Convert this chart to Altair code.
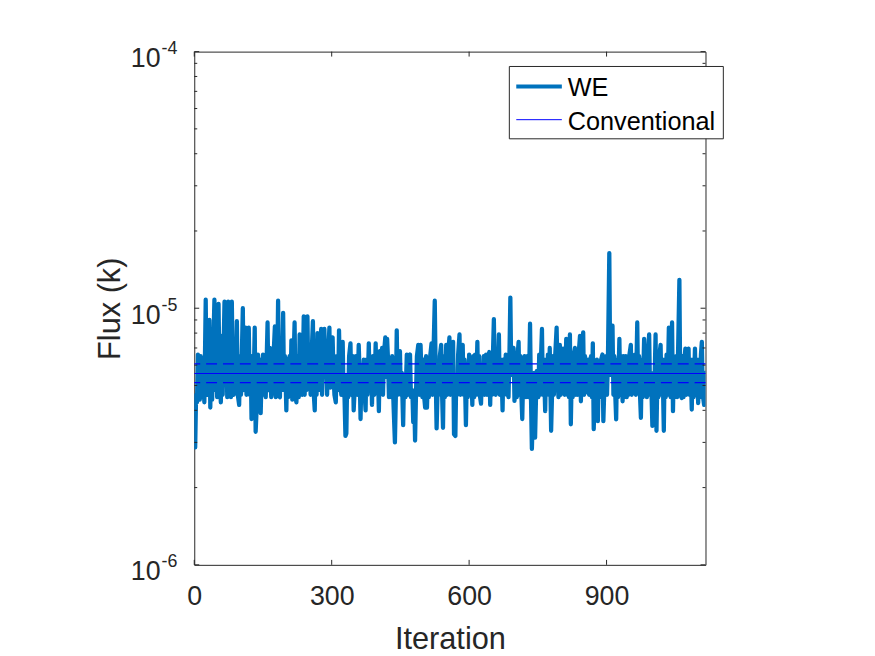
import altair as alt
import pandas as pd

FONT = "Liberation Sans, Arial, Helvetica, sans-serif"
TXT = "#262626"

# ---- WE flux series (values in units of 1e-6) ----
iterations = [
    0, 2, 4, 6, 8, 10, 12, 14, 16, 19, 22, 25, 27, 29, 31, 33, 35, 37, 39, 41, 44, 46, 48, 50, 53, 55, 58, 60, 62, 66,
    68, 70, 72, 74, 76, 78, 80, 82, 84, 86, 88, 90, 93, 95, 98, 100, 102, 106, 108, 110, 112, 114, 116, 119, 121, 123,
    125, 127, 129, 132, 134, 136, 139, 141, 143, 145, 147, 150, 152, 154, 156, 160, 162, 165, 168, 170, 173, 176, 178,
    181, 183, 185, 187, 189, 191, 194, 196, 198, 201, 203, 205, 208, 210, 212, 214, 217, 219, 221, 223, 225, 228, 230,
    232, 234, 236, 239, 241, 243, 245, 247, 249, 252, 254, 256, 259, 261, 263, 265, 267, 269, 271, 273, 275, 277, 279,
    281, 284, 286, 288, 290, 292, 295, 297, 299, 302, 304, 306, 309, 311, 314, 316, 318, 321, 324, 326, 328, 330, 332,
    334, 336, 338, 341, 343, 346, 348, 350, 353, 356, 359, 361, 363, 365, 367, 370, 372, 374, 376, 378, 381, 383, 386,
    388, 390, 393, 396, 398, 400, 403, 405, 407, 410, 412, 414, 417, 419, 421, 423, 425, 428, 430, 432, 435, 438, 440,
    442, 444, 447, 449, 451, 453, 456, 458, 461, 464, 466, 468, 471, 473, 476, 478, 480, 482, 484, 486, 489, 491, 494,
    496, 498, 500, 502, 504, 506, 508, 510, 512, 515, 518, 520, 522, 525, 527,
    529, 532, 534, 536, 539, 541, 543, 545, 547, 550, 552, 554, 557, 559, 562, 565, 567, 570, 572, 574, 576, 579, 581,
    583, 586, 588, 590, 593, 595, 597, 600, 602, 604, 607, 609, 611, 613, 615, 618, 620, 622, 624, 626, 628, 630, 632,
    634, 637, 639, 641, 644, 646, 648, 650, 652, 654, 656, 658, 660, 662, 665, 667, 670, 673, 675, 677, 680, 682, 684,
    686, 688, 690, 692, 694, 697, 699, 702, 704, 706, 708, 710, 712, 714, 716, 718, 721, 724, 727, 730, 733, 735, 737,
    740, 742, 744, 746, 748, 751, 753, 755, 757, 759, 761, 763, 766, 768, 770, 772, 774, 776, 779, 781, 783, 785, 788,
    791, 793, 795, 798, 800, 802, 805, 807, 809, 812, 814, 816, 818, 820, 822, 824, 826, 828, 831, 833, 835, 837, 839,
    842, 844, 846, 849, 851, 853, 855, 857, 860, 862, 864, 866, 868, 870, 872, 875, 877, 879, 881, 883, 885, 888, 891,
    893, 896, 899, 901, 903, 906, 908, 910, 913, 915, 917, 919, 921, 923, 925, 928, 930, 932, 935, 937, 939, 942, 944,
    946, 948, 950, 953, 955, 957, 960, 962, 964, 967, 969, 971, 973, 975, 977, 979, 982, 984, 986, 988, 990, 993, 995,
    997, 1000, 1002, 1004, 1007, 1009, 1011, 1013, 1015, 1018, 1020, 1022, 1025, 1027, 1029, 1031, 1033, 1036, 1038,
    1040, 1043, 1045, 1047, 1049, 1052, 1054, 1056, 1059, 1061, 1064, 1066, 1068, 1070, 1072, 1074, 1076, 1079, 1081,
    1083, 1086, 1088, 1090, 1093, 1095, 1097, 1100, 1102, 1104, 1106, 1108, 1110, 1113, 1115,
]

we_flux_e6 = [
    4.2, 2.87, 4.6, 4.3, 6.6, 4.8, 4.4, 6.5, 4.5, 6.3, 4.3, 10.8, 4.6, 8.5, 4.6, 9.0, 4.1, 7.0, 4.4, 6.5, 10.8, 4.8, 7.5,
    4.5, 10.4, 5.5, 4.3, 7.8, 4.6, 10.6, 5.3, 8.0, 4.5, 10.6, 5.6, 7.2, 4.5, 10.6, 5.6, 4.6, 7.0, 4.8, 8.9, 4.6, 4.2,
    6.5, 4.6, 10.0, 4.8, 6.5, 8.4, 4.6, 6.5, 8.4, 4.6, 6.5, 3.7, 6.5, 4.5, 8.4, 3.3, 4.0, 6.6, 4.2, 6.3, 3.9, 5.5, 6.6,
    4.6, 6.5, 4.5, 8.8, 4.8, 7.0, 4.5, 4.8, 6.5, 8.5, 4.5, 5.5, 10.7, 4.6, 4.5, 7.0, 4.8, 9.6, 4.8, 6.5, 4.0, 6.3, 4.5,
    6.5, 4.6, 7.5, 4.4, 6.5, 8.8, 4.5, 4.3, 6.5, 4.5, 7.9, 4.6, 5.5, 4.6, 9.3, 4.6, 7.0, 4.8, 9.3, 5.3, 7.0, 4.6, 6.5,
    8.9, 4.6, 4.0, 6.5, 4.6, 8.0, 4.8, 7.0, 5.5, 8.3, 4.6, 6.6, 8.3, 5.5, 6.5, 4.6, 6.5, 8.4, 4.9, 7.0, 7.7, 5.5, 4.6,
    4.3, 6.5, 4.8, 8.2, 5.5, 4.6, 7.4, 4.6, 4.5, 3.18, 3.25, 5.5, 4.5, 6.5, 7.3, 4.6, 6.5, 4.0, 4.8, 6.5, 4.6, 7.2, 5.5,
    3.7, 5.5, 4.5, 6.3, 4.6, 4.0, 6.3, 4.6, 7.3, 4.8, 6.3, 4.2, 6.5, 4.6, 7.3, 4.8, 6.5, 3.97, 6.8, 4.8, 7.0, 4.6, 6.6,
    7.7, 5.4, 7.6, 6.3, 4.5, 5.5, 4.5, 6.5, 4.2, 3.0, 4.5, 8.2, 4.6, 6.5, 6.8, 4.6, 5.6, 3.5, 5.5, 4.5, 6.6, 4.6, 6.3,
    6.6, 4.5, 4.8, 3.6, 4.6, 3.05, 4.6, 6.5, 7.2, 4.6, 7.2, 5.5, 4.5, 6.3, 4.5, 4.1, 6.5, 4.1, 5.5, 4.5, 6.5, 7.3, 4.6,
    6.5, 10.7, 5.5,
    3.4, 5.5, 4.6, 6.5, 7.2, 4.6, 3.42, 6.5, 4.5, 7.2, 4.6, 6.5, 7.7, 4.6, 6.5, 7.4, 3.23, 3.18, 5.5, 4.6, 6.6, 7.9,
    4.6, 6.5, 7.2, 4.6, 6.3, 3.5, 5.5, 4.5, 6.6, 4.6, 6.3, 4.2, 6.5, 4.5, 6.6, 4.6, 7.4, 4.6, 6.5, 4.5, 4.25, 5.5, 4.6,
    6.5, 4.6, 6.6, 4.6, 6.3, 6.75, 4.2, 6.5, 4.6, 6.6, 9.07, 5.5, 4.6, 6.5, 4.8, 7.9, 4.6, 6.3, 4.0, 6.3, 4.7, 6.6, 4.6,
    6.5, 4.5, 6.6, 11.0, 5.5, 6.5, 7.0, 4.35, 6.3, 4.5, 6.6, 7.4, 4.6, 6.5, 4.6, 3.7, 5.5, 6.5, 4.5, 6.5, 4.5, 8.7, 4.5,
    2.83, 4.5, 5.6, 3.13, 4.5, 5.7, 4.5, 6.6, 4.6, 6.5, 8.3, 4.6, 6.3, 3.97, 6.3, 4.6, 6.6, 4.6, 7.0, 3.33, 4.6, 6.5,
    4.6, 6.6, 8.4, 5.5, 4.5, 7.2, 4.6, 6.5, 6.96, 4.8, 4.6, 7.6, 4.6, 6.3, 4.5, 7.9, 3.53, 5.5, 4.5, 6.5, 7.0, 4.6, 6.3,
    4.6, 6.6, 7.8, 4.34, 6.3, 8.06, 4.6, 6.5, 4.7, 5.6, 6.3, 4.6, 5.5, 6.5, 4.5, 7.3, 3.38, 5.5, 4.6, 6.3, 3.63, 5.5,
    4.5, 6.3, 6.6, 3.63, 5.5, 6.5, 4.6, 6.3, 16.4, 5.5, 6.5, 8.55, 4.6, 6.5, 4.6, 3.69, 6.3, 4.5, 7.6, 4.6, 6.5, 4.34,
    6.5, 4.5, 6.5, 4.5, 6.3, 4.6, 6.6, 7.2, 4.6, 6.3, 4.74, 6.6, 4.6, 8.8, 4.8, 6.5, 4.6, 3.74, 6.3, 4.5, 7.6, 4.6, 6.5,
    4.5, 6.6, 7.9, 4.6, 5.6, 3.48, 5.5, 4.5, 7.9, 3.33, 5.5, 4.5, 6.5, 7.2, 4.6, 6.3, 3.33, 6.3, 4.5, 6.6, 4.6, 8.4,
    5.5, 4.5, 8.8, 3.97, 6.3, 4.5, 6.5, 4.5, 6.6, 12.9, 4.6, 4.47, 6.5, 4.5, 6.3, 6.96, 4.6, 6.5, 6.96, 4.6, 6.3, 4.03,
    6.3, 4.5, 6.96, 4.6, 6.3, 4.27, 6.3, 4.5, 6.6, 7.4, 4.6, 4.2, 5.6,
]
assert len(iterations) == len(we_flux_e6), (len(iterations), len(we_flux_e6))

# ---- Conventional estimate and its bounds ----
conv_mean = [5.57e-6]
conv_bounds = [6.07e-6, 5.13e-6]

# ---- axis ticks / labels ----
x_ticks = [0, 300, 600, 900]
y_major = [1e-6, 1e-5, 1e-4]
y_exponent = ["-6", "-5", "-4"]
y_minor = [2e-6, 3e-6, 4e-6, 5e-6, 6e-6, 7e-6, 8e-6, 9e-6,
           2e-5, 3e-5, 4e-5, 5e-5, 6e-5, 7e-5, 8e-5, 9e-5]

W, H = 516, 518
XMAX = 1116

df = pd.DataFrame({"Iteration": iterations, "Flux": [v * 1e-6 for v in we_flux_e6]})

xs = alt.Scale(domain=[0, XMAX], nice=False, zero=False)
ys = alt.Scale(type="log", domain=[1e-6, 1e-4], nice=False)

X_AXIS = alt.Axis(
    values=x_ticks, ticks=False, domain=False, grid=False, labelFlush=False,
    labelFontSize=27, labelPadding=19, labelColor=TXT, labelFont=FONT,
    title="Iteration", titleFontSize=31, titleFontWeight="normal", titleColor=TXT,
    titleFont=FONT, titleY=84, titleBaseline="alphabetic")
Y_AXIS = alt.Axis(
    labels=False, ticks=False, domain=False, grid=False,
    title="Flux (k)", titleFontSize=31, titleFontWeight="normal", titleColor=TXT,
    titleFont=FONT, titleX=-75, titleY=H / 2, titleBaseline="alphabetic")

X_ENC = alt.X("Iteration:Q", scale=xs, axis=X_AXIS)
Y_ENC = alt.Y("Flux:Q", scale=ys, axis=Y_AXIS)

we_line = alt.Chart(df).mark_line(
    color="#0072BD", strokeWidth=4.3, strokeJoin="round", strokeCap="round", clip=True
).encode(x=X_ENC, y=Y_ENC)

conv_solid = alt.Chart(pd.DataFrame({"Flux": conv_mean})).mark_rule(
    color="#0000FF", strokeWidth=1.1
).encode(y=Y_ENC)

conv_dash = alt.Chart(pd.DataFrame({"Flux": conv_bounds})).mark_rule(
    color="#0000FF", strokeWidth=1.1, strokeDash=[11, 6]
).encode(y=Y_ENC)

xt = pd.DataFrame({"Iteration": x_ticks})
xtick_bot = alt.Chart(xt).mark_rule(color=TXT, strokeWidth=1).encode(
    x=X_ENC, y=alt.value(H), y2=alt.value(H - 5))
xtick_top = alt.Chart(xt).mark_rule(color=TXT, strokeWidth=1).encode(
    x=X_ENC, y=alt.value(0), y2=alt.value(5))

ym = pd.DataFrame({"Flux": y_major, "exp": y_exponent})
yn = pd.DataFrame({"Flux": y_minor})
ytick_l = alt.Chart(ym).mark_rule(color=TXT, strokeWidth=1).encode(
    y=Y_ENC, x=alt.value(0), x2=alt.value(5))
ytick_r = alt.Chart(ym).mark_rule(color=TXT, strokeWidth=1).encode(
    y=Y_ENC, x=alt.value(W - 5), x2=alt.value(W))
yminor_l = alt.Chart(yn).mark_rule(color=TXT, strokeWidth=1).encode(
    y=Y_ENC, x=alt.value(0), x2=alt.value(3))
yminor_r = alt.Chart(yn).mark_rule(color=TXT, strokeWidth=1).encode(
    y=Y_ENC, x=alt.value(W - 3), x2=alt.value(W))

ylab_base = alt.Chart(ym).mark_text(
    align="right", baseline="alphabetic", dy=15.7, fontSize=27, font=FONT, color=TXT
).encode(y=Y_ENC, x=alt.value(-34), text=alt.value("10"))
ylab_exp = alt.Chart(ym).mark_text(
    align="left", baseline="alphabetic", dy=2.4, fontSize=18, font=FONT, color=TXT
).encode(y=Y_ENC, x=alt.value(-33), text="exp:N")

one = pd.DataFrame({"k": [0]})
leg_box = alt.Chart(one).mark_rect(fill="white", stroke=TXT, strokeWidth=1).encode(
    x=alt.value(318), x2=alt.value(534), y=alt.value(15), y2=alt.value(88))
leg_we = alt.Chart(one).mark_rule(color="#0072BD", strokeWidth=4).encode(
    x=alt.value(325), x2=alt.value(371), y=alt.value(35.3))
leg_conv = alt.Chart(one).mark_rule(color="#0000FF", strokeWidth=1).encode(
    x=alt.value(325), x2=alt.value(371), y=alt.value(68.7))
leg_t1 = alt.Chart(one).mark_text(
    align="left", baseline="alphabetic", fontSize=25.5, font=FONT, color="black", text="WE"
).encode(x=alt.value(377), y=alt.value(45.3))
leg_t2 = alt.Chart(one).mark_text(
    align="left", baseline="alphabetic", fontSize=25.5, font=FONT, color="black", text="Conventional"
).encode(x=alt.value(377), y=alt.value(79))

chart = alt.layer(
    we_line, conv_solid, conv_dash,
    xtick_bot, xtick_top, ytick_l, ytick_r, yminor_l, yminor_r,
    ylab_base, ylab_exp,
    leg_box, leg_we, leg_conv, leg_t1, leg_t2,
).properties(
    width=W, height=H,
    background="white",
    autosize=alt.AutoSizeParams(type="none"),
    padding={"left": 188, "top": 41, "right": 163, "bottom": 90},
).configure_view(stroke=TXT, strokeWidth=1)

chart.save("out.html", embed_options={"renderer": "svg", "actions": False})
